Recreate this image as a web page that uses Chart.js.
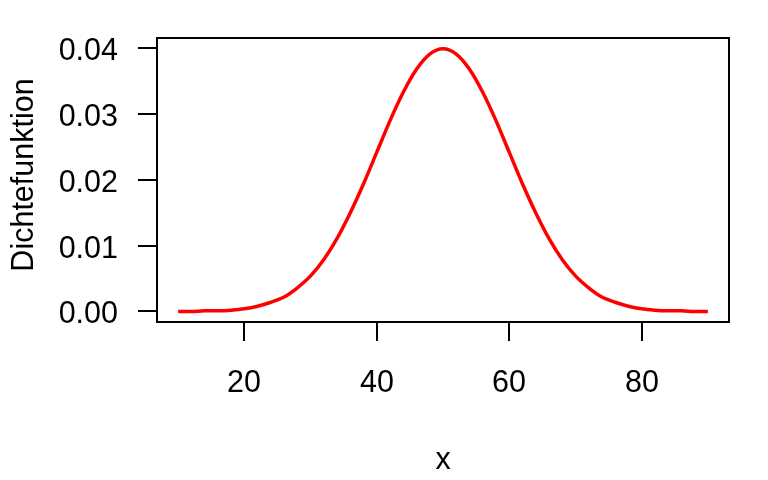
<!DOCTYPE html>
<html>
<head>
<meta charset="utf-8">
<script src="https://cdn.jsdelivr.net/npm/chart.js@4.4.0/dist/chart.umd.min.js"></script>
<style>
  html, body { margin: 0; padding: 0; background: #fff; }
  #wrap { width: 768px; height: 480px; }
</style>
</head>
<body>
<div id="wrap"><canvas id="grafico"></canvas></div>
<script>
/* --------------- datos --------------- */
const xWerte = [10, 12, 14, 16, 18, 20, 22, 24, 26, 28, 30, 32, 34, 36, 38, 40, 42, 44, 46, 48, 50,
                52, 54, 56, 58, 60, 62, 64, 66, 68, 70, 72, 74, 76, 78, 80, 82, 84, 86, 88, 90];
const dichte = [0.0000, 0.0000, 0.0001, 0.0001, 0.0002, 0.0004, 0.0008, 0.0014, 0.0022, 0.0036, 0.0054,
                0.0079, 0.0111, 0.0150, 0.0194, 0.0242, 0.0290, 0.0333, 0.0368, 0.0391, 0.0399,
                0.0391, 0.0368, 0.0333, 0.0290, 0.0242, 0.0194, 0.0150, 0.0111, 0.0079, 0.0054,
                0.0036, 0.0022, 0.0014, 0.0008, 0.0004, 0.0002, 0.0001, 0.0001, 0.0000, 0.0000];
const xTicks = [20, 40, 60, 80];
const yTicks = [0.00, 0.01, 0.02, 0.03, 0.04];
const xTitel = 'x';
const yTitel = 'Dichtefunktion';

const FONT = '30.5px "Liberation Sans", Arial, sans-serif';

// R-style axes: box, outward ticks, horizontal y labels
const rAchsen = {
    id: 'rAchsen',
    afterDraw(chart) {
        const { ctx, chartArea: a, scales } = chart;
        const tick = 19;
        ctx.save();
        ctx.strokeStyle = '#000';
        ctx.lineWidth = 2;
        ctx.strokeRect(a.left, a.top, a.right - a.left, a.bottom - a.top);

        ctx.fillStyle = '#000';
        ctx.font = FONT;
        ctx.textBaseline = 'alphabetic';

        ctx.textAlign = 'center';
        xTicks.forEach(v => {
            const px = Math.round(scales.x.getPixelForValue(v));
            ctx.beginPath();
            ctx.moveTo(px, a.bottom);
            ctx.lineTo(px, a.bottom + tick);
            ctx.stroke();
            ctx.fillText(String(v), px, 392);
        });

        ctx.textAlign = 'right';
        yTicks.forEach(v => {
            const py = Math.round(scales.y.getPixelForValue(v));
            ctx.beginPath();
            ctx.moveTo(a.left, py);
            ctx.lineTo(a.left - tick, py);
            ctx.stroke();
            ctx.fillText(v.toFixed(2), 118, py + 12);
        });

        ctx.textAlign = 'center';
        ctx.fillText(xTitel, (a.left + a.right) / 2, 469);

        ctx.translate(33, 175);
        ctx.rotate(-Math.PI / 2);
        ctx.fillText(yTitel, 0, 0);
        ctx.restore();
    }
};

document.addEventListener('DOMContentLoaded', () => {
    new Chart(document.getElementById('grafico'), {
        type: 'line',
        data: {
            datasets: [{
                data: xWerte.map((x, i) => ({ x: x, y: dichte[i] })),
                borderColor: '#ff0000',
                borderWidth: 3.5,
                pointRadius: 0,
                tension: 0.3,
                fill: false
            }]
        },
        options: {
            responsive: true,
            maintainAspectRatio: false,
            animation: false,
            events: [],
            layout: { padding: { left: 157, right: 39, top: 38, bottom: 158 } },
            plugins: { legend: { display: false }, tooltip: { enabled: false } },
            scales: {
                x: { type: 'linear', min: 6.8, max: 93.2, display: false },
                y: { min: -0.0016, max: 0.04155, display: false }
            }
        },
        plugins: [rAchsen]
    });
});
</script>
</body>
</html>
